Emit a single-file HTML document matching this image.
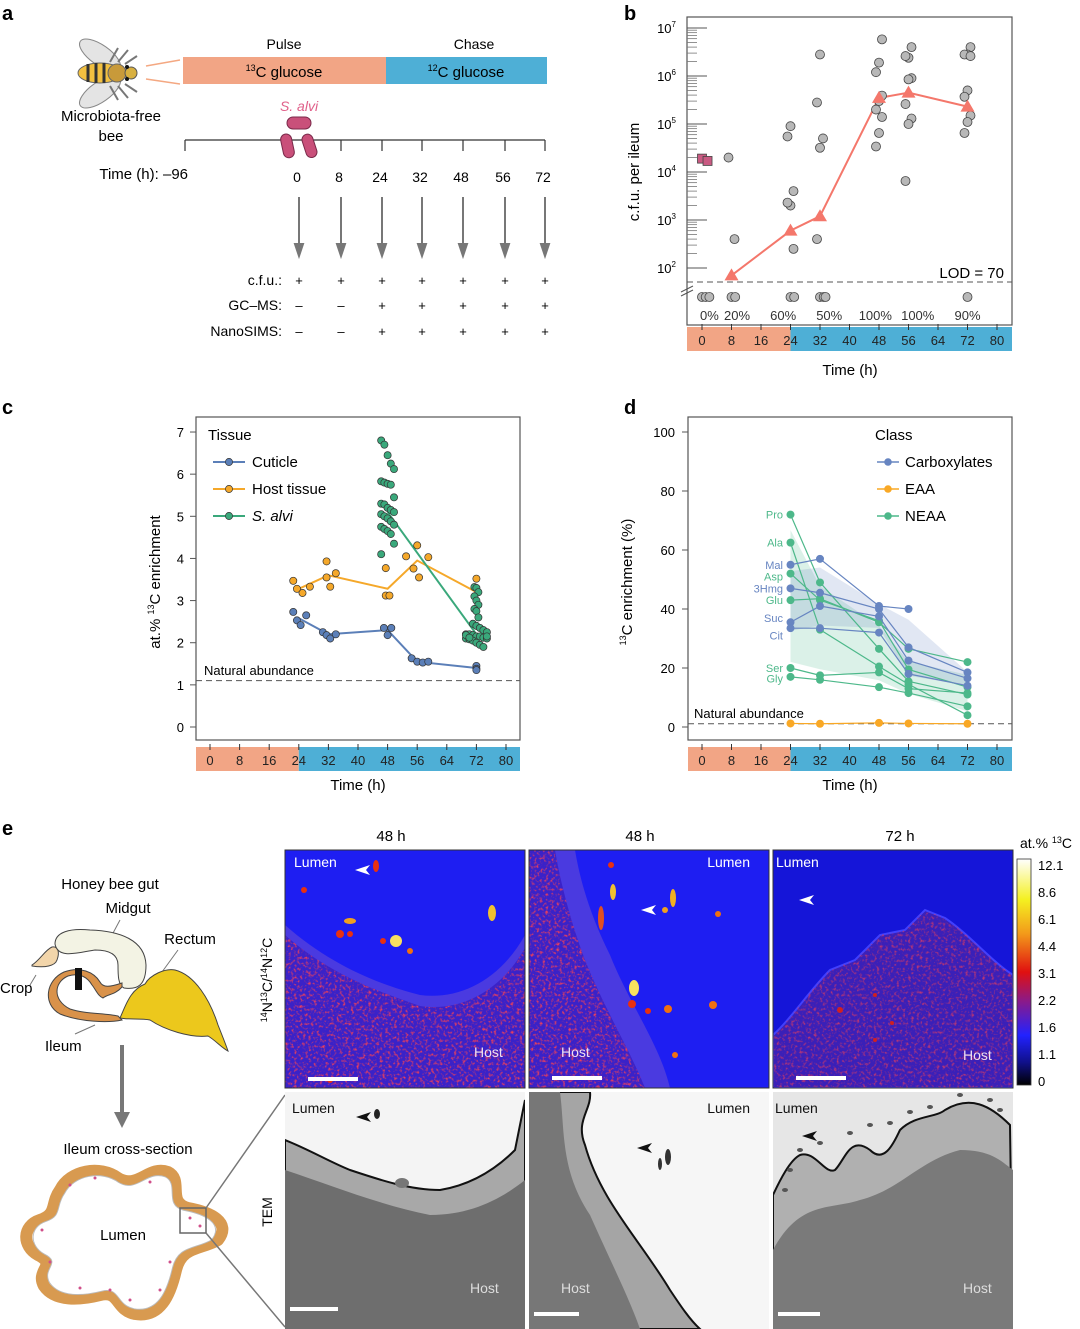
<!DOCTYPE html>
<html><head><meta charset="utf-8"><style>
html,body{margin:0;padding:0;background:#fff;}
svg{display:block;font-family:"Liberation Sans",sans-serif;}
</style></head><body>
<svg id="fig" width="1080" height="1329" viewBox="0 0 1080 1329" xmlns="http://www.w3.org/2000/svg">
<defs>
<linearGradient id="cbar" x1="0" y1="0" x2="0" y2="1">
<stop offset="0" stop-color="#ffffff"/><stop offset="0.18" stop-color="#f4f020"/><stop offset="0.33" stop-color="#f39a1a"/><stop offset="0.5" stop-color="#e01010"/><stop offset="0.63" stop-color="#8a1a8a"/><stop offset="0.78" stop-color="#2222ff"/><stop offset="0.9" stop-color="#10108a"/><stop offset="1" stop-color="#000000"/>
</linearGradient>
<filter id="noise" x="0" y="0" width="100%" height="100%"><feTurbulence type="fractalNoise" baseFrequency="0.35" numOctaves="2" seed="3"/><feColorMatrix values="0 0 0 0 0.85  0 0 0 0 0.05  0 0 0 0 0.1  0 0 0 3 -1.5"/><feComposite in2="SourceGraphic" operator="in"/></filter>
<clipPath id="c1"><rect x="285" y="850" width="240" height="238"/></clipPath>
<clipPath id="c2"><rect x="529" y="850" width="240" height="238"/></clipPath>
<clipPath id="c3"><rect x="773" y="850" width="240" height="238"/></clipPath>
<clipPath id="t1"><rect x="285" y="1092" width="240" height="237"/></clipPath>
<clipPath id="t2"><rect x="529" y="1092" width="240" height="237"/></clipPath>
<clipPath id="t3"><rect x="773" y="1092" width="240" height="237"/></clipPath>
<clipPath id="h1"><path d="M285,935 C330,975 380,992 420,1006 C460,1012 500,992 525,948 L525,1088 L285,1088Z"/></clipPath>
<clipPath id="h2"><path d="M529,850 L555,850 C560,880 570,920 585,960 C605,1010 630,1050 645,1088 L529,1088Z"/></clipPath>
<clipPath id="h3"><path d="M773,1035 C790,1020 810,990 830,970 L855,960 L880,935 L905,930 L925,910 L945,918 C970,935 990,960 1013,975 L1013,1088 L773,1088Z"/></clipPath>
</defs>

<text x="2" y="20" font-size="20" font-weight="bold">a</text>
<text x="624" y="20" font-size="20" font-weight="bold">b</text>
<text x="2" y="414" font-size="20" font-weight="bold">c</text>
<text x="624" y="414" font-size="20" font-weight="bold">d</text>
<text x="2" y="835" font-size="20" font-weight="bold">e</text>

<g>
  <g>
    <ellipse cx="100" cy="55" rx="24" ry="10" transform="rotate(35 100 55)" fill="#e4e4e4" stroke="#888"/>
    <ellipse cx="100" cy="92" rx="24" ry="10" transform="rotate(-35 100 92)" fill="#e4e4e4" stroke="#888"/>
    <g stroke="#777" stroke-width="2" fill="none"><path d="M110,62 l8,-14 M118,62 l10,-12 M125,64 l12,-8 M110,86 l8,14 M118,86 l10,12 M125,84 l12,8"/></g>
    <ellipse cx="100" cy="73" rx="22" ry="10" fill="#f2c040" stroke="#666"/>
    <path d="M88,64 v18 M96,63 v20 M104,63 v20" stroke="#333" stroke-width="3"/>
    <circle cx="117" cy="73" r="9" fill="#c89a3a" stroke="#666"/>
    <circle cx="131" cy="73" r="6" fill="#d8b040" stroke="#555"/>
    <circle cx="127" cy="67" r="2" fill="#111"/><circle cx="127" cy="79" r="2" fill="#111"/>
    <path d="M146,66 L180,60 M146,79 L180,84" stroke="#f4a882" stroke-width="1.5"/>
  </g>
  <text x="111" y="121" font-size="15" text-anchor="middle">Microbiota-free</text>
  <text x="111" y="141" font-size="15" text-anchor="middle">bee</text>
  <text x="284" y="49" font-size="14" text-anchor="middle">Pulse</text>
  <text x="474" y="49" font-size="14" text-anchor="middle">Chase</text>
  <rect x="183" y="57" width="203" height="27" fill="#f2a585"/>
  <rect x="386" y="57" width="161" height="27" fill="#4eafd6"/>
  <text x="284" y="77" font-size="15" text-anchor="middle"><tspan font-size="9" dy="-6">13</tspan><tspan dy="6">C glucose</tspan></text>
  <text x="466" y="77" font-size="15" text-anchor="middle"><tspan font-size="9" dy="-6">12</tspan><tspan dy="6">C glucose</tspan></text>
  <text x="299" y="111" font-size="14" font-style="italic" fill="#e0608a" text-anchor="middle">S. alvi</text>
  <line x1="185" y1="140" x2="545" y2="140" stroke="#333" stroke-width="1.2"/>
  <g fill="#c9507a" stroke="#7a2a4a">
    <rect x="287" y="117" width="24" height="12" rx="6"/>
    <rect x="282" y="134" width="11" height="24" rx="5.5" transform="rotate(-12 287 146)"/>
    <rect x="304" y="134" width="11" height="24" rx="5.5" transform="rotate(-18 309 146)"/>
  </g>
  <g id="timelineA"></g>
  <text x="188" y="179" font-size="15" text-anchor="end">Time (h): –96</text>
  <text x="282" y="285" font-size="14" text-anchor="end">c.f.u.:</text>
  <text x="282" y="310" font-size="14" text-anchor="end">GC–MS:</text>
  <text x="282" y="336" font-size="14" text-anchor="end">NanoSIMS:</text>
</g>

<g id="panelB">
  <rect x="687" y="17" width="325" height="308" fill="none" stroke="#555" stroke-width="1.2"/>
  <text transform="translate(639,172) rotate(-90)" font-size="15" text-anchor="middle">c.f.u. per ileum</text>
  <text x="850" y="375" font-size="15" text-anchor="middle">Time (h)</text>
  <text x="1004" y="278" font-size="15" text-anchor="end">LOD = 70</text>
</g>

<g id="panelC">
  <rect x="196" y="417" width="324" height="323" fill="none" stroke="#555" stroke-width="1.2"/>
  <text transform="translate(160,582) rotate(-90)" font-size="15" text-anchor="middle">at.% <tspan font-size="9" dy="-6">13</tspan><tspan dy="6">C enrichment</tspan></text>
  <text x="358" y="790" font-size="15" text-anchor="middle">Time (h)</text>
  <text x="204" y="675" font-size="13">Natural abundance</text>
  <text x="208" y="440" font-size="15">Tissue</text>
</g>

<g id="panelD">
  <rect x="688" y="417" width="324" height="323" fill="none" stroke="#555" stroke-width="1.2"/>
  <text transform="translate(632,582) rotate(-90)" font-size="15" text-anchor="middle"><tspan font-size="9" dy="-6">13</tspan><tspan dy="6">C enrichment (%)</tspan></text>
  <text x="850" y="790" font-size="15" text-anchor="middle">Time (h)</text>
  <text x="694" y="718" font-size="13">Natural abundance</text>
  <text x="875" y="440" font-size="15">Class</text>
</g>

<g>
  <text x="110" y="889" font-size="15" text-anchor="middle">Honey bee gut</text>
  <text x="128" y="913" font-size="15" text-anchor="middle">Midgut</text>
  <text x="190" y="944" font-size="15" text-anchor="middle">Rectum</text>
  <text x="0" y="993" font-size="15">Crop</text>
  <text x="45" y="1051" font-size="15">Ileum</text>
  <g stroke="#444" stroke-width="1">
    <path d="M120,920 L112,935 M178,950 L162,972 M36,975 L30,985 M95,1025 L75,1034" stroke="#777"/>
    <path d="M32,965 C40,960 45,950 52,947 C58,946 60,952 57,960 C55,966 45,968 32,966Z" fill="#f2d5aa"/>
    <path d="M55,944 C55,932 70,928 90,930 C120,931 145,940 146,965 C146,985 138,990 124,988 C118,985 118,975 118,965 C118,955 110,950 95,950 C80,952 58,960 55,944Z" fill="#f3f3e4"/>
    <path d="M122,987 C115,995 108,994 103,998 C98,996 96,990 92,985 C88,978 80,972 68,976 C54,982 52,1000 70,1009 C85,1014 105,1013 118,1016 L122,1020 C108,1023 80,1022 60,1014 C42,1004 46,980 64,972 C80,966 94,972 100,982 C103,988 110,987 122,983Z" fill="#d9924a"/>
    <path d="M120,1018 C126,1005 130,990 145,984 C150,975 165,968 175,970 C195,975 210,1000 218,1025 C222,1035 226,1045 228,1051 C222,1048 215,1040 208,1036 C190,1038 165,1030 150,1020 C140,1018 130,1020 120,1018Z" fill="#ecc81c"/>
    <rect x="75" y="968" width="7" height="22" fill="#111" stroke="none"/>
  </g>
  <path d="M122,1045 V1115" stroke="#777" stroke-width="4"/>
  <path d="M114,1112 L130,1112 L122,1128Z" fill="#777"/>
  <text x="128" y="1154" font-size="15" text-anchor="middle">Ileum cross-section</text>
  <g>
    <path d="M60,1190 C70,1170 100,1165 118,1178 C138,1190 148,1165 168,1172 C184,1180 166,1202 188,1208 C210,1212 232,1222 218,1240 C200,1250 182,1246 176,1270 C170,1296 160,1318 135,1314 C115,1310 120,1290 100,1295 C80,1300 55,1302 44,1286 C35,1270 58,1265 38,1255 C22,1246 22,1226 40,1220 C58,1214 50,1204 60,1190Z" fill="#fff" stroke="#d89a50" stroke-width="12" stroke-linejoin="round"/>
    <path d="M60,1190 C70,1170 100,1165 118,1178 C138,1190 148,1165 168,1172 C184,1180 166,1202 188,1208 C210,1212 232,1222 218,1240 C200,1250 182,1246 176,1270 C170,1296 160,1318 135,1314 C115,1310 120,1290 100,1295 C80,1300 55,1302 44,1286 C35,1270 58,1265 38,1255 C22,1246 22,1226 40,1220 C58,1214 50,1204 60,1190Z" fill="#fff" stroke="#bbb" stroke-width="1" transform="translate(125 1240) scale(0.93) translate(-125 -1240)"/>
    <g fill="#d0508a"><circle cx="70" cy="1185" r="1.5"/><circle cx="95" cy="1178" r="1.5"/><circle cx="150" cy="1182" r="1.5"/><circle cx="190" cy="1218" r="1.5"/><circle cx="200" cy="1226" r="1.5"/><circle cx="170" cy="1262" r="1.5"/><circle cx="160" cy="1290" r="1.5"/><circle cx="130" cy="1300" r="1.5"/><circle cx="80" cy="1288" r="1.5"/><circle cx="50" cy="1262" r="1.5"/><circle cx="42" cy="1230" r="1.5"/><circle cx="110" cy="1290" r="1.5"/></g>
    <text x="123" y="1240" font-size="15" text-anchor="middle">Lumen</text>
    <rect x="180" y="1208" width="26" height="25" fill="none" stroke="#666" stroke-width="1.5"/>
    <path d="M206,1208 L285,1095 M206,1233 L285,1327" stroke="#777" stroke-width="1.5"/>
  </g>

  <text x="391" y="841" font-size="15" text-anchor="middle">48 h</text>
  <text x="640" y="841" font-size="15" text-anchor="middle">48 h</text>
  <text x="900" y="841" font-size="15" text-anchor="middle">72 h</text>
  <text transform="translate(272,980) rotate(-90)" font-size="14" text-anchor="middle"><tspan font-size="9" dy="-5">14</tspan><tspan dy="5">N</tspan><tspan font-size="9" dy="-5">13</tspan><tspan dy="5">C/</tspan><tspan font-size="9" dy="-5">14</tspan><tspan dy="5">N</tspan><tspan font-size="9" dy="-5">12</tspan><tspan dy="5">C</tspan></text>
  <text transform="translate(272,1212) rotate(-90)" font-size="14" text-anchor="middle">TEM</text>

  <g clip-path="url(#c1)">
    <rect x="285" y="850" width="240" height="238" fill="#1e1ef2"/>
    <path d="M285,925 C330,965 380,985 420,995 C460,1000 500,980 525,935 L525,1088 L285,1088Z" fill="#4a3ae0"/>
    <path d="M285,935 C330,975 380,992 420,1006 C460,1012 500,992 525,948 L525,1088 L285,1088Z" fill="#3a22c8"/>
    <rect x="285" y="850" width="240" height="238" filter="url(#noise)" fill="#fff" clip-path="url(#h1)"/>
    <g fill="#f07010"><ellipse cx="376" cy="866" rx="3" ry="6" fill="#e83010"/><ellipse cx="350" cy="921" rx="6" ry="3" fill="#f0a020"/><circle cx="340" cy="934" r="4" fill="#e83010"/><circle cx="350" cy="934" r="3" fill="#e83010"/><circle cx="396" cy="941" r="6" fill="#f8e060"/><circle cx="383" cy="941" r="3" fill="#e83010"/><circle cx="410" cy="951" r="3"/><ellipse cx="492" cy="913" rx="4" ry="8" fill="#f0c030"/><circle cx="304" cy="890" r="3" fill="#e83010"/><circle cx="330" cy="1080" r="3" fill="#e83010"/></g>
    <rect x="308" y="1077" width="50" height="4" fill="#fff"/>
  </g>
  <rect x="285" y="850" width="240" height="238" fill="none" stroke="#333"/>
  <text x="294" y="867" font-size="14" fill="#fff">Lumen</text>
  <text x="474" y="1057" font-size="14" fill="#f0e0f0">Host</text>
  <path d="M355,870 L370,865 L366,870 L370,875Z" fill="#fff"/>

  <g clip-path="url(#c2)">
    <rect x="529" y="850" width="240" height="238" fill="#1e1ef2"/>
    <path d="M529,850 L575,850 C580,880 590,915 610,955 C630,1005 660,1045 670,1088 L529,1088Z" fill="#4a3ae0"/>
    <path d="M529,850 L555,850 C560,880 570,920 585,960 C605,1010 630,1050 645,1088 L529,1088Z" fill="#3a22c8"/>
    <rect x="529" y="850" width="240" height="238" filter="url(#noise)" fill="#fff" clip-path="url(#h2)"/>
    <g fill="#e83010"><ellipse cx="611" cy="865" rx="3" ry="3"/><ellipse cx="613" cy="892" rx="3" ry="8" fill="#f0c030"/><ellipse cx="601" cy="918" rx="3" ry="12" fill="#e05020"/><ellipse cx="673" cy="898" rx="3" ry="9" fill="#f0b020"/><circle cx="665" cy="910" r="3" fill="#f0a020"/><circle cx="718" cy="914" r="3" fill="#f07010"/><ellipse cx="634" cy="988" rx="5" ry="8" fill="#f8e060"/><circle cx="632" cy="1004" r="4"/><circle cx="648" cy="1011" r="3"/><circle cx="668" cy="1009" r="4" fill="#f07010"/><circle cx="713" cy="1005" r="4" fill="#f07010"/><circle cx="675" cy="1055" r="3" fill="#f07010"/></g>
    <rect x="552" y="1076" width="50" height="4" fill="#fff"/>
  </g>
  <rect x="529" y="850" width="240" height="238" fill="none" stroke="#333"/>
  <text x="750" y="867" font-size="14" fill="#fff" text-anchor="end">Lumen</text>
  <text x="561" y="1057" font-size="14" fill="#f0e0f0">Host</text>
  <path d="M641,910 L656,905 L652,910 L656,915Z" fill="#fff"/>

  <g clip-path="url(#c3)">
    <rect x="773" y="850" width="240" height="238" fill="#1515d8"/>
    <path d="M773,1035 C790,1020 810,990 830,970 L855,960 L880,935 L905,930 L925,910 L945,918 C970,935 990,960 1013,975 L1013,1088 L773,1088Z" fill="#3a20b8" stroke="#4040ff" stroke-width="2"/>
    <rect x="773" y="850" width="240" height="238" filter="url(#noise)" fill="#fff" clip-path="url(#h3)" opacity="0.7"/>
    <g fill="#d02020"><circle cx="840" cy="1010" r="3"/><circle cx="875" cy="995" r="2"/><circle cx="892" cy="1023" r="2"/><circle cx="875" cy="1040" r="2"/></g>
    <rect x="796" y="1076" width="50" height="4" fill="#fff"/>
  </g>
  <rect x="773" y="850" width="240" height="238" fill="none" stroke="#333"/>
  <text x="776" y="867" font-size="14" fill="#fff">Lumen</text>
  <text x="963" y="1060" font-size="14" fill="#f0e0f0">Host</text>
  <path d="M799,900 L814,895 L810,900 L814,905Z" fill="#fff"/>

  <g clip-path="url(#t1)">
    <rect x="285" y="1092" width="240" height="237" fill="#f4f4f4"/>
    <path d="M285,1140 C310,1150 330,1162 350,1170 C380,1180 410,1190 440,1190 C470,1185 495,1170 515,1150 L525,1100 L525,1329 L285,1329Z" fill="#a8a8a8" stroke="#111" stroke-width="2"/>
    <path d="M285,1170 C330,1185 380,1205 430,1215 C470,1215 500,1200 525,1180 L525,1329 L285,1329Z" fill="#6e6e6e"/>
    <ellipse cx="377" cy="1114" rx="3" ry="5" fill="#222"/><ellipse cx="402" cy="1183" rx="7" ry="5" fill="#777"/>
    <rect x="290" y="1307" width="48" height="4" fill="#fff"/>
  </g>
  <text x="292" y="1113" font-size="14" fill="#111">Lumen</text>
  <text x="470" y="1293" font-size="14" fill="#ddd">Host</text>
  <path d="M356,1117 L371,1112 L367,1117 L371,1122Z" fill="#111"/>

  <g clip-path="url(#t2)">
    <rect x="529" y="1092" width="240" height="237" fill="#f6f6f6"/>
    <path d="M529,1092 L590,1092 C592,1110 575,1120 585,1145 C600,1200 640,1240 670,1290 C680,1305 690,1320 700,1329 L529,1329Z" fill="#a5a5a5" stroke="#111" stroke-width="2"/>
    <path d="M529,1092 L560,1092 C565,1130 560,1170 590,1215 C610,1260 630,1300 640,1329 L529,1329Z" fill="#777"/>
    <ellipse cx="668" cy="1157" rx="3" ry="8" fill="#333"/><ellipse cx="660" cy="1164" rx="2" ry="6" fill="#333"/>
    <rect x="534" y="1312" width="45" height="4" fill="#fff"/>
  </g>
  <text x="750" y="1113" font-size="14" fill="#111" text-anchor="end">Lumen</text>
  <text x="561" y="1293" font-size="14" fill="#ddd">Host</text>
  <path d="M637,1148 L652,1143 L648,1148 L652,1153Z" fill="#111"/>

  <g clip-path="url(#t3)">
    <rect x="773" y="1092" width="240" height="237" fill="#e6e6e6"/>
    <path d="M773,1195 C780,1180 790,1160 800,1155 C815,1150 825,1175 835,1170 C845,1160 850,1135 870,1150 C885,1165 895,1140 900,1130 C915,1115 935,1118 945,1110 C970,1095 990,1105 1010,1125 L1013,1329 L773,1329Z" fill="#b0b0b0" stroke="#111" stroke-width="2"/>
    <path d="M773,1250 C800,1200 830,1210 860,1200 C900,1190 920,1160 960,1150 C990,1150 1000,1160 1013,1170 L1013,1329 L773,1329Z" fill="#7a7a7a"/>
    <g fill="#555"><ellipse cx="800" cy="1150" rx="3" ry="2"/><ellipse cx="820" cy="1143" rx="3" ry="2"/><ellipse cx="850" cy="1133" rx="3" ry="2"/><ellipse cx="870" cy="1125" rx="3" ry="2"/><ellipse cx="890" cy="1123" rx="3" ry="2"/><ellipse cx="910" cy="1112" rx="3" ry="2"/><ellipse cx="930" cy="1107" rx="3" ry="2"/><ellipse cx="960" cy="1095" rx="3" ry="2"/><ellipse cx="990" cy="1100" rx="3" ry="2"/><ellipse cx="1000" cy="1110" rx="3" ry="2"/><ellipse cx="790" cy="1170" rx="3" ry="2"/><ellipse cx="785" cy="1190" rx="3" ry="2"/></g>
    <rect x="778" y="1312" width="42" height="4" fill="#fff"/>
  </g>
  <text x="775" y="1113" font-size="14" fill="#111">Lumen</text>
  <text x="963" y="1293" font-size="14" fill="#ddd">Host</text>
  <path d="M802,1136 L817,1131 L813,1136 L817,1141Z" fill="#111"/>

  <text x="1020" y="848" font-size="14">at.% <tspan font-size="9" dy="-5">13</tspan><tspan dy="5">C</tspan></text>
  <rect x="1017" y="859" width="14" height="226" fill="url(#cbar)" stroke="#333" stroke-width="0.8"/>
  <g id="cbarLabels" font-size="13"></g>
</g>

<script>
const NS='http://www.w3.org/2000/svg';
function mk(tag,attrs,parent){const e=document.createElementNS(NS,tag);for(const k in attrs)e.setAttribute(k,attrs[k]);parent.appendChild(e);return e;}

const aTimes=['0','8','24','32','48','56','72'];
const aCfu=['+','+','+','+','+','+','+'];
const aGcms=['–','–','+','+','+','+','+'];
const aNano=['–','–','+','+','+','+','+'];

const bMeanTimes=[8,24,32,48,56,72];
const bMeanValues=[70,600,1200,350000,450000,230000];
const bPointTimes=[8,8,24,24,24,24,24,24,32,32,32,32,32,48,48,48,48,48,48,48,48,48,56,56,56,56,56,56,56,56,56,72,72,72,72,72,72,72,72,72];
const bPointValues=[20000,400,90000,55000,4000,2000,2300,250,2800000,280000,50000,32000,400,5800000,1900000,1200000,390000,300000,200000,140000,65000,34000,4000000,2400000,2600000,900000,850000,260000,130000,100000,6500,4000000,2800000,2800000,2600000,500000,370000,150000,110000,65000];
const bSquareTimes=[0,1.5];
const bSquareValues=[19000,17000];
const bBelowLodTimes=[0,1,2,8,9,24,25,32,33,33.5,72];
const bPctTimes=[2,9.5,22,34.5,47,58.5,72];
const bPctLabels=['0%','20%','60%','50%','100%','100%','90%'];
const bDecades=[2,3,4,5,6,7];
const xTicks=[0,8,16,24,32,40,48,56,64,72,80];

const cTimes=[24,32,48,56,72];
const cCuticleMean=[2.58,2.2,2.3,1.55,1.4];
const cHostMean=[3.28,3.6,3.28,3.95,3.2];
const cAlviTimes=[48,72];
const cAlviMean=[5.1,2.2];
const cCuticleT=[22.5,23.5,24.5,26,30.5,31.5,32.5,34,47,48,49,54.5,56,57.5,59,72,72,72];
const cCuticleV=[2.73,2.53,2.42,2.65,2.25,2.18,2.1,2.2,2.35,2.18,2.35,1.63,1.55,1.53,1.55,1.45,1.38,1.35];
const cHostT=[22.5,23.5,25,27,31.5,31.5,32.5,34,47.5,47.5,48.5,53,56,55,56.5,59,72];
const cHostV=[3.47,3.28,3.18,3.33,3.93,3.55,3.33,3.65,3.77,3.12,3.12,4.05,4.31,3.76,3.55,4.03,3.52];
const cAlvi48=[6.8,6.7,6.45,6.25,6.12,5.83,5.8,5.77,5.75,5.45,5.3,5.28,5.2,5.15,5.1,5.05,5.0,4.95,4.88,4.8,4.75,4.7,4.65,4.58,4.35,4.1];
const cAlvi72=[3.32,3.3,3.2,3.1,3.0,2.9,2.8,2.75,2.6,2.45,2.4,2.35,2.3,2.25,2.2,2.2,2.18,2.15,2.15,2.12,2.1,2.1,2.08,2.05,2.0,1.95,1.9,2.15,2.18,2.12];
const cYTicks=[0,1,2,3,4,5,6,7];
const cNatural=1.1;

const dTimes=[24,32,48,56,72];
const dCarbNames=['Mal','3Hmg','Suc','Cit'];
const dMal=[55,57,41,40,null];
const d3Hmg=[47,45.5,40,27,18.5];
const dSuc=[35.5,41,37.5,22.5,16.5];
const dCit=[33.5,33.5,32,18,14];
const dNeaaNames=['Pro','Ala','Asp','Glu','Ser','Gly'];
const dPro=[72,49,26.5,15.5,11];
const dAla=[62.5,33,20.5,14.5,4];
const dAsp=[52,43,36,19.5,13.5];
const dGlu=[43,43.5,35.5,26.5,22];
const dSer=[20,17.5,18.5,13,11.5];
const dGly=[17,16,13.5,11.5,7];
const dEaa=[1.2,1.1,1.4,1.2,1.1];
const dYTicks=[0,20,40,60,80,100];
const dNatural=1.1;

(function(){
  const g=document.getElementById('timelineA');
  const xs=t=>({'0':299,'8':341,'24':382,'32':422,'48':463,'56':505,'72':545})[t];
  let e=mk('line',{x1:185,y1:140,x2:185,y2:151,stroke:'#333','stroke-width':1.2},g);
  
  
  aTimes.forEach((t,i)=>{
    const x=xs(t);
    if(i>0){const tk=mk('line',{x1:x,y1:140,x2:x,y2:151,stroke:'#333','stroke-width':1.2},g);
      
      }
    const lb=mk('text',{x:x-2,y:182,'font-size':14,'text-anchor':'middle'},g); lb.textContent=t;
    
    
    const ar=mk('path',{d:`M${x},197 V250 M${x-4},244 L${x},256 L${x+4},244Z`,stroke:'#777','stroke-width':2,fill:'#777'},g);
    
    
    [[aCfu,285],[aGcms,310],[aNano,336]].forEach(([arr,y])=>{
      const s=mk('text',{x:x,y:y,'font-size':13,'text-anchor':'middle'},g); s.textContent=arr[i];
      
      
    });
  });
})();

function timeBar(g,x0,x1,y,xf,name){
  const r1=mk('rect',{x:x0,y:y,width:xf(24)-x0,height:24,fill:'#f2a585'},g);
  
  
  const r2=mk('rect',{x:xf(24),y:y,width:x1-xf(24),height:24,fill:'#4eafd6'},g);
  
  
  xTicks.forEach(t=>{
    const tk=mk('line',{x1:xf(t),y1:y-3,x2:xf(t),y2:y+3,stroke:'#333'},g);
    
    
    const lb=mk('text',{x:xf(t),y:y+18,'font-size':13,'text-anchor':'middle',fill:'#222'},g); lb.textContent=t;
    
    
  });
}

(function(){
  const g=document.getElementById('panelB');
  const xB=t=>702+t*3.6875;
  const yB=v=>268-(Math.log10(v)-2)*48;
  const yLod=297;
  timeBar(g,687,1012,327,xB,'b');
  bDecades.forEach(d=>{
    const y=yB(Math.pow(10,d));
    const tk=mk('line',{x1:687,y1:y,x2:707,y2:y,stroke:'#555'},g);
    
    
    const lb=mk('text',{x:676,y:y+5,'font-size':13,'text-anchor':'end'},g);
    
    
    const base=mk('tspan',{},lb); base.textContent='10';
    const sup=mk('tspan',{'font-size':8,dy:-6},lb); sup.textContent=String(d);
    if(d<7){for(let m=2;m<=9;m++){const ym=yB(m*Math.pow(10,d));
      const mt=mk('line',{x1:687,y1:ym,x2:697,y2:ym,stroke:'#777','stroke-width':0.8},g);
      
      }}
  });
  const lod=mk('line',{x1:687,y1:282,x2:1012,y2:282,stroke:'#555','stroke-dasharray':'6,4'},g);
  
  
  const br=mk('path',{d:'M681,292 L693,286 M681,296 L693,290',stroke:'#555',fill:'none'},g);
  
  
  const ml=mk('polyline',{points:bMeanTimes.map((t,i)=>xB(t)+','+yB(bMeanValues[i])).join(' '),fill:'none',stroke:'#f4776b','stroke-width':2},g);
  
  
  bPointTimes.forEach((t,i)=>{
    const jit=((i*5)%3-1)*3;
    const c=mk('circle',{cx:xB(t)+jit,cy:yB(bPointValues[i]),r:4.5,fill:'#b8b8b8',stroke:'#444','stroke-width':0.8},g);
    
    
  });
  bBelowLodTimes.forEach(t=>{
    const c=mk('circle',{cx:xB(t),cy:yLod,r:4.5,fill:'#b8b8b8',stroke:'#444','stroke-width':0.8},g);
    
    
  });
  bSquareTimes.forEach((t,i)=>{
    const s=mk('rect',{x:xB(t)-4.5,y:yB(bSquareValues[i])-4.5,width:9,height:9,fill:'#c95a82',stroke:'#444','stroke-width':0.8},g);
    
    
  });
  bMeanTimes.forEach((t,i)=>{
    const x=xB(t),y=yB(bMeanValues[i]);
    const tr=mk('path',{d:`M${x},${y-7} L${x+7},${y+5} L${x-7},${y+5}Z`,fill:'#f4776b'},g);
    
    
  });
  bPctTimes.forEach((t,i)=>{
    const lb=mk('text',{x:xB(t),y:320,'font-size':13,'text-anchor':'middle',fill:'#333'},g); lb.textContent=bPctLabels[i];
    
    
  });
})();

(function(){
  const g=document.getElementById('panelC');
  const xC=t=>210+t*3.7;
  const yC=v=>727-v*42.14;
  timeBar(g,196,520,747,xC,'c');
  cYTicks.forEach(v=>{
    const tk=mk('line',{x1:190,y1:yC(v),x2:196,y2:yC(v),stroke:'#555'},g);
    
    
    const lb=mk('text',{x:184,y:yC(v)+5,'font-size':13,'text-anchor':'end'},g); lb.textContent=v;
    
    
  });
  const na=mk('line',{x1:196,y1:yC(cNatural),x2:520,y2:yC(cNatural),stroke:'#555','stroke-dasharray':'6,4'},g);
  
  
  const cols={cut:'#5b7fb8',host:'#f5a82a',alvi:'#3aa87b'};
  const l1=mk('polyline',{points:cTimes.map((t,i)=>xC(t)+','+yC(cCuticleMean[i])).join(' '),fill:'none',stroke:cols.cut,'stroke-width':2},g);
  
  
  const l2=mk('polyline',{points:cTimes.map((t,i)=>xC(t)+','+yC(cHostMean[i])).join(' '),fill:'none',stroke:cols.host,'stroke-width':2},g);
  
  
  const l3=mk('polyline',{points:cAlviTimes.map((t,i)=>xC(t)+','+yC(cAlviMean[i])).join(' '),fill:'none',stroke:cols.alvi,'stroke-width':2},g);
  
  
  function dot(x,y,col,name){const c=mk('circle',{cx:x,cy:y,r:3.6,fill:col,stroke:'#333','stroke-width':0.7},g);
    
    }
  cHostT.forEach((t,i)=>dot(xC(t),yC(cHostV[i]),cols.host,'host-tissue-point'));
  cCuticleT.forEach((t,i)=>dot(xC(t),yC(cCuticleV[i]),cols.cut,'cuticle-point'));
  cAlvi48.forEach((v,i)=>dot(xC(48)+((i%5)-2)*3.2,yC(v),cols.alvi,'s-alvi-point'));
  cAlvi72.forEach((v,i)=>{const spread=v<2.5?((i%7)-3)*3.5:((i%3)-1)*2;dot(xC(72)+spread,yC(v),cols.alvi,'s-alvi-point');});
  [['Cuticle',cols.cut,462,false],['Host tissue',cols.host,489,false],['S. alvi',cols.alvi,516,true]].forEach(([n,c,y,it])=>{
    const ln=mk('line',{x1:213,y1:y,x2:245,y2:y,stroke:c,'stroke-width':2},g);
    
    
    dot(229,y,c,'legend-marker');
    const t=mk('text',{x:252,y:y+5,'font-size':15,'font-style':it?'italic':'normal'},g); t.textContent=n;
    
    
  });
})();

(function(){
  const g=document.getElementById('panelD');
  const xD=t=>702+t*3.6875;
  const yD=v=>727-v*2.95;
  timeBar(g,688,1012,747,xD,'d');
  dYTicks.forEach(v=>{
    const tk=mk('line',{x1:682,y1:yD(v),x2:688,y2:yD(v),stroke:'#555'},g);
    
    
    const lb=mk('text',{x:675,y:yD(v)+5,'font-size':13,'text-anchor':'end'},g); lb.textContent=v;
    
    
  });
  const carb=[dMal,d3Hmg,dSuc,dCit], neaa=[dPro,dAla,dAsp,dGlu,dSer,dGly];
  const cCol='#6785c1', nCol='#4db88a', eCol='#f9a825';
  function band(series,col,name){
    const up=[],lo=[];
    dTimes.forEach((t,i)=>{
      const vals=series.map(s=>s[i]).filter(v=>v!=null);
      const m=vals.reduce((a,b)=>a+b,0)/vals.length;
      const sd=Math.sqrt(vals.reduce((a,b)=>a+(b-m)*(b-m),0)/(vals.length-1));
      up.push(xD(t)+','+yD(m+sd)); lo.unshift(xD(t)+','+yD(Math.max(0,m-sd)));
    });
    const p=mk('polygon',{points:up.concat(lo).join(' '),fill:col,'fill-opacity':0.2},g);
    
    
  }
  band(neaa,nCol,'neaa-sd-band');
  band(carb,cCol,'carboxylate-sd-band');
  const na=mk('line',{x1:688,y1:yD(dNatural),x2:1012,y2:yD(dNatural),stroke:'#555','stroke-dasharray':'6,4'},g);
  
  
  function series(s,col,name){
    const pts=[];dTimes.forEach((t,i)=>{if(s[i]!=null)pts.push(xD(t)+','+yD(s[i]));});
    const l=mk('polyline',{points:pts.join(' '),fill:'none',stroke:col,'stroke-width':1.2},g);
    
    
    dTimes.forEach((t,i)=>{if(s[i]==null)return;
      const c=mk('circle',{cx:xD(t),cy:yD(s[i]),r:4,fill:col},g);
      
      });
  }
  neaa.forEach((s,i)=>series(s,nCol,'neaa-'+dNeaaNames[i].toLowerCase()));
  carb.forEach((s,i)=>series(s,cCol,'carboxylate-'+dCarbNames[i].toLowerCase()));
  series(dEaa,eCol,'eaa');
  const labs=[['Pro',dPro[0],nCol],['Ala',dAla[0],nCol],['Mal',dMal[0],cCol],['Asp',dAsp[0]-1,nCol],['3Hmg',d3Hmg[0],cCol],['Glu',dGlu[0],nCol],['Suc',dSuc[0]+1.5,cCol],['Cit',dCit[0]-2.5,cCol],['Ser',dSer[0],nCol],['Gly',dGly[0]-0.5,nCol]];
  labs.forEach(([n,v,c])=>{
    const t=mk('text',{x:783,y:yD(v)+4,'font-size':11,'text-anchor':'end',fill:c},g); t.textContent=n;
    
    
  });
  [['Carboxylates',cCol,462],['EAA',eCol,489],['NEAA',nCol,516]].forEach(([n,c,y])=>{
    const ln=mk('line',{x1:877,y1:y,x2:899,y2:y,stroke:c,'stroke-width':1.5},g);
    
    
    const m=mk('circle',{cx:888,cy:y,r:3.8,fill:c},g);
    
    
    const t=mk('text',{x:905,y:y+5,'font-size':15},g); t.textContent=n;
    
    
  });
})();

const cbarLabels=['12.1','8.6','6.1','4.4','3.1','2.2','1.6','1.1','0'];
(function(){
  const g=document.getElementById('cbarLabels');
  cbarLabels.forEach((l,i)=>{
    const t=mk('text',{x:1038,y:870+i*27,'font-size':13},g); t.textContent=l;
    
    
  });
})();
</script>
</svg>
</body></html>
